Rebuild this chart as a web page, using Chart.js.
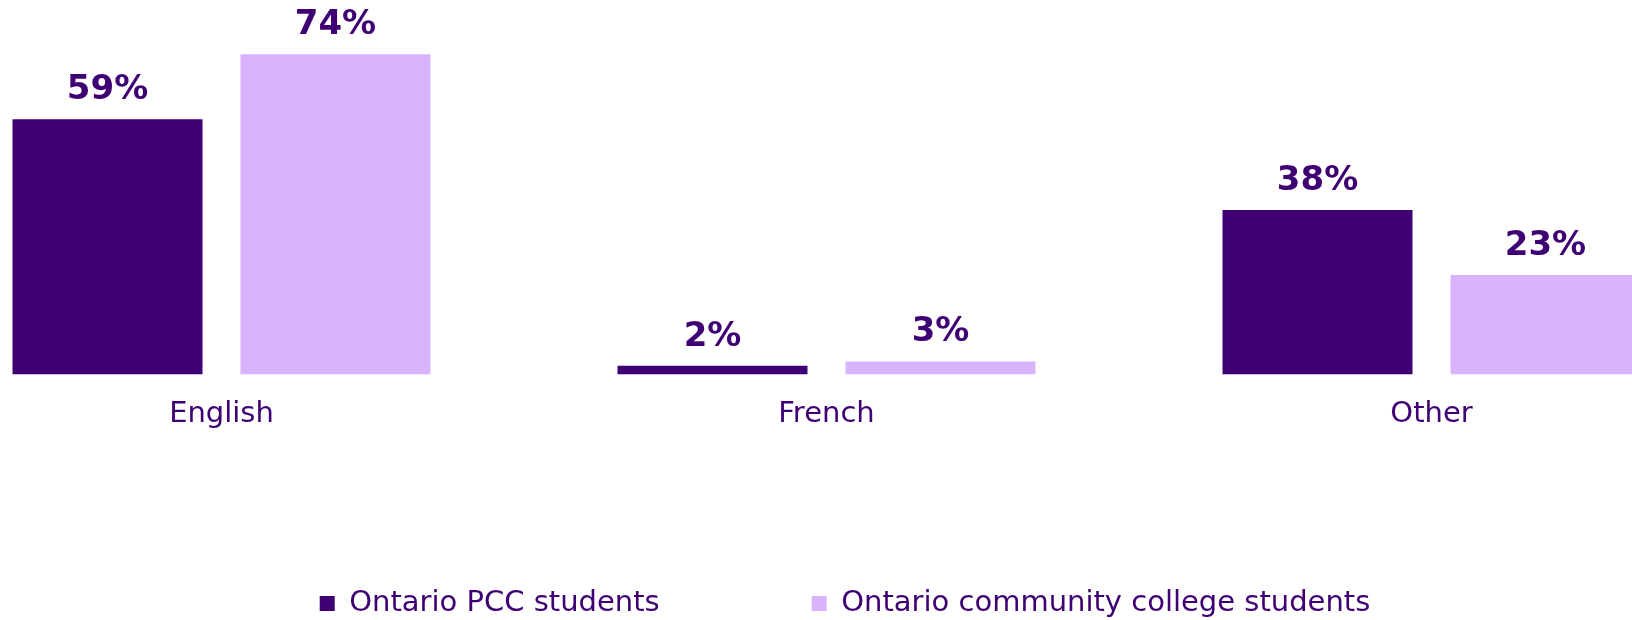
<!DOCTYPE html>
<html>
<head>
<meta charset="utf-8">
<script src="https://cdn.jsdelivr.net/npm/chart.js@4"></script>
<style>
    html, body { margin: 0; padding: 0; background: #fff; overflow: hidden; }
    /* plot is wider than the window: first and last categories are cut at the edges */
    #wrap { position: absolute; left: -81.5px; top: 0; width: 1815px; height: 646px; }
</style>
</head>
<body>
<div id="wrap"><canvas id="language-chart"></canvas></div>
<script>
// Chart data
const categories = ['English', 'French', 'Other'];
const seriesNames = ['Ontario PCC students', 'Ontario community college students'];
const pccValues = [59, 2, 38];
const collegeValues = [74, 3, 23];

const darkPurple = '#3e0073';
const lightPurple = '#dab3fe';
const textColor = '#3e0073';

// Draw value labels above each bar
const valueLabels = {
    id: 'valueLabels',
    afterDatasetsDraw(chart) {
        const ctx = chart.ctx;
        ctx.save();
        ctx.font = 'bold 34px "DejaVu Sans"';
        ctx.fillStyle = textColor;
        ctx.textAlign = 'center';
        ctx.textBaseline = 'alphabetic';
        chart.data.datasets.forEach((ds, i) => {
            chart.getDatasetMeta(i).data.forEach((bar, j) => {
                ctx.fillText(ds.data[j] + '%', bar.x, bar.y - 20);
            });
        });
        ctx.restore();
    }
};

// Legend padding is large to space the two items apart; nudge the legend box
const legendShift = {
    id: 'legendShift',
    afterLayout(chart) {
        const lg = chart.legend;
        lg.top -= 18;
        lg.bottom -= 18;
        lg.left += 18.5;
        lg.right += 18.5;
    }
};

const ctx = document.getElementById('language-chart').getContext('2d');
window.languageChart = new Chart(ctx, {
    type: 'bar',
    data: {
        labels: categories,
        datasets: [{
            label: seriesNames[0],
            data: pccValues,
            backgroundColor: darkPurple,
            categoryPercentage: 0.7537,
            barPercentage: 0.8333
        }, {
            label: seriesNames[1],
            data: collegeValues,
            backgroundColor: lightPurple,
            categoryPercentage: 0.7537,
            barPercentage: 0.8333
        }]
    },
    options: {
        responsive: true,
        maintainAspectRatio: false,
        animation: false,
        layout: {
            padding: { top: 28.4, left: 0, right: 0, bottom: 0 }
        },
        scales: {
            x: {
                grid: { display: false, drawTicks: false },
                border: { display: false },
                ticks: {
                    color: textColor,
                    padding: 22.9,
                    font: { family: '"DejaVu Sans"', size: 29 }
                }
            },
            y: {
                display: false,
                min: 0,
                max: 80
            }
        },
        plugins: {
            legend: {
                position: 'bottom',
                labels: {
                    color: textColor,
                    boxWidth: 15,
                    boxHeight: 15,
                    padding: 152,
                    font: { family: '"DejaVu Sans"', size: 29 }
                }
            },
            tooltip: { enabled: false }
        }
    },
    plugins: [valueLabels, legendShift]
});
</script>
</body>
</html>
